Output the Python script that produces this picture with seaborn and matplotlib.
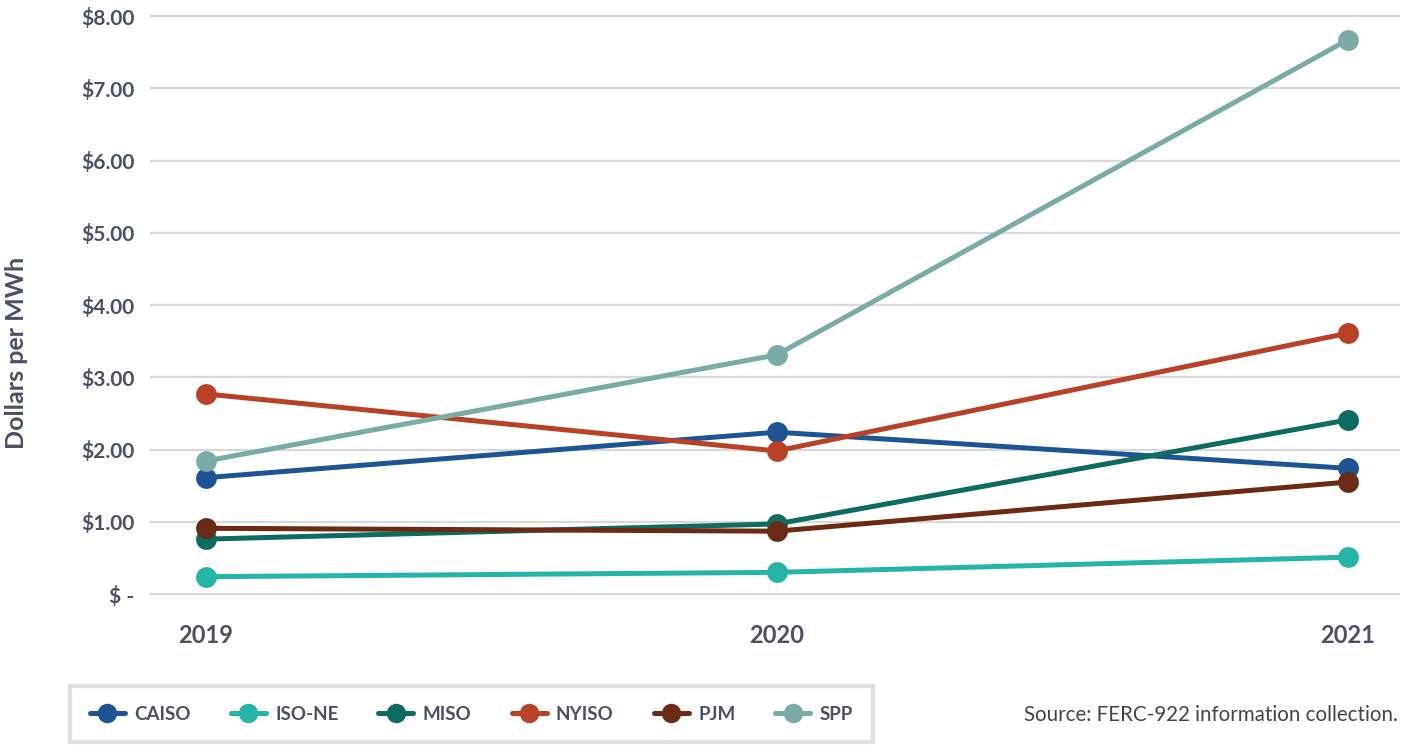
import pandas as pd
import matplotlib.pyplot as plt
import seaborn as sns
from matplotlib.lines import Line2D
from matplotlib.ticker import FuncFormatter

# Values (dollars per MWh)
years = [2019, 2020, 2021]
caiso = [1.61, 2.24, 1.74]
iso_ne = [0.24, 0.30, 0.51]
miso = [0.76, 0.97, 2.41]
nyiso = [2.77, 1.98, 3.61]
pjm = [0.91, 0.87, 1.55]
spp = [1.84, 3.31, 7.67]

regions = ['CAISO', 'ISO-NE', 'MISO', 'NYISO', 'PJM', 'SPP']
colors = ['#1f5494', '#24b5a5', '#0e6b5f', '#b84127', '#6b2a14', '#7aaba7']

series = [caiso, iso_ne, miso, nyiso, pjm, spp]
rows = []
for name, vals in zip(regions, series):
    for yr, v in zip(years, vals):
        rows.append({'Year': yr, 'Region': name, 'Value': v})
df = pd.DataFrame(rows)

sns.set_style('white')
plt.rcParams['font.family'] = ['Lato', 'DejaVu Sans']
text_col = '#4a5068'

fig = plt.figure(figsize=(14.11, 7.46), dpi=100)
ax = fig.add_axes([0.106, 0.2008, 0.886, 0.7806])

sns.lineplot(data=df, x='Year', y='Value', hue='Region', hue_order=regions,
             palette=colors, marker='o', markersize=15, markeredgewidth=0,
             linewidth=3.6, ax=ax, legend=False)

ax.set_xlim(2019 - 0.098, 2021 + 0.091)
ax.set_ylim(-0.03, 8.03)
ax.set_xticks(years)
ax.set_yticks(range(0, 9))
ax.yaxis.set_major_formatter(FuncFormatter(lambda v, p: '$ -' if v == 0 else f'${v:.2f}'))
ax.grid(axis='y', color='#d9d9d9', linewidth=1.6)
ax.set_axisbelow(True)
for s in ax.spines.values():
    s.set_visible(False)
ax.tick_params(axis='both', length=0, labelcolor=text_col)
ax.tick_params(axis='x', pad=20, labelsize=17)
ax.tick_params(axis='y', pad=11, labelsize=15)
for lab in ax.get_xticklabels() + ax.get_yticklabels():
    lab.set_fontweight('bold')
ax.set_xlabel('')
ax.set_ylabel('Dollars per MWh', fontsize=18, fontweight='bold', color=text_col)
ax.yaxis.set_label_coords(-0.0976, 0.418)

handles = [Line2D([0], [0], color=c, lw=3.6, marker='o', markersize=14, markeredgewidth=0)
           for c in colors]
leg = fig.legend(handles, regions, loc='lower left', bbox_to_anchor=(0.047, 0.0),
                 ncol=6, frameon=True, fancybox=False, handlelength=1.87,
                 columnspacing=2.13, handletextpad=0.5, borderpad=1.05, borderaxespad=0.2,
                 prop={'weight': 'bold', 'size': 13.5})
leg.get_frame().set_edgecolor('#d9d9d9')
leg.get_frame().set_linewidth(3)
for t in leg.get_texts():
    t.set_color(text_col)

fig.text(0.991, 0.041, 'Source: FERC-922 information collection.', ha='right', va='center',
         fontsize=14.8, color='#444444')

fig.savefig('out.png', dpi=100)
